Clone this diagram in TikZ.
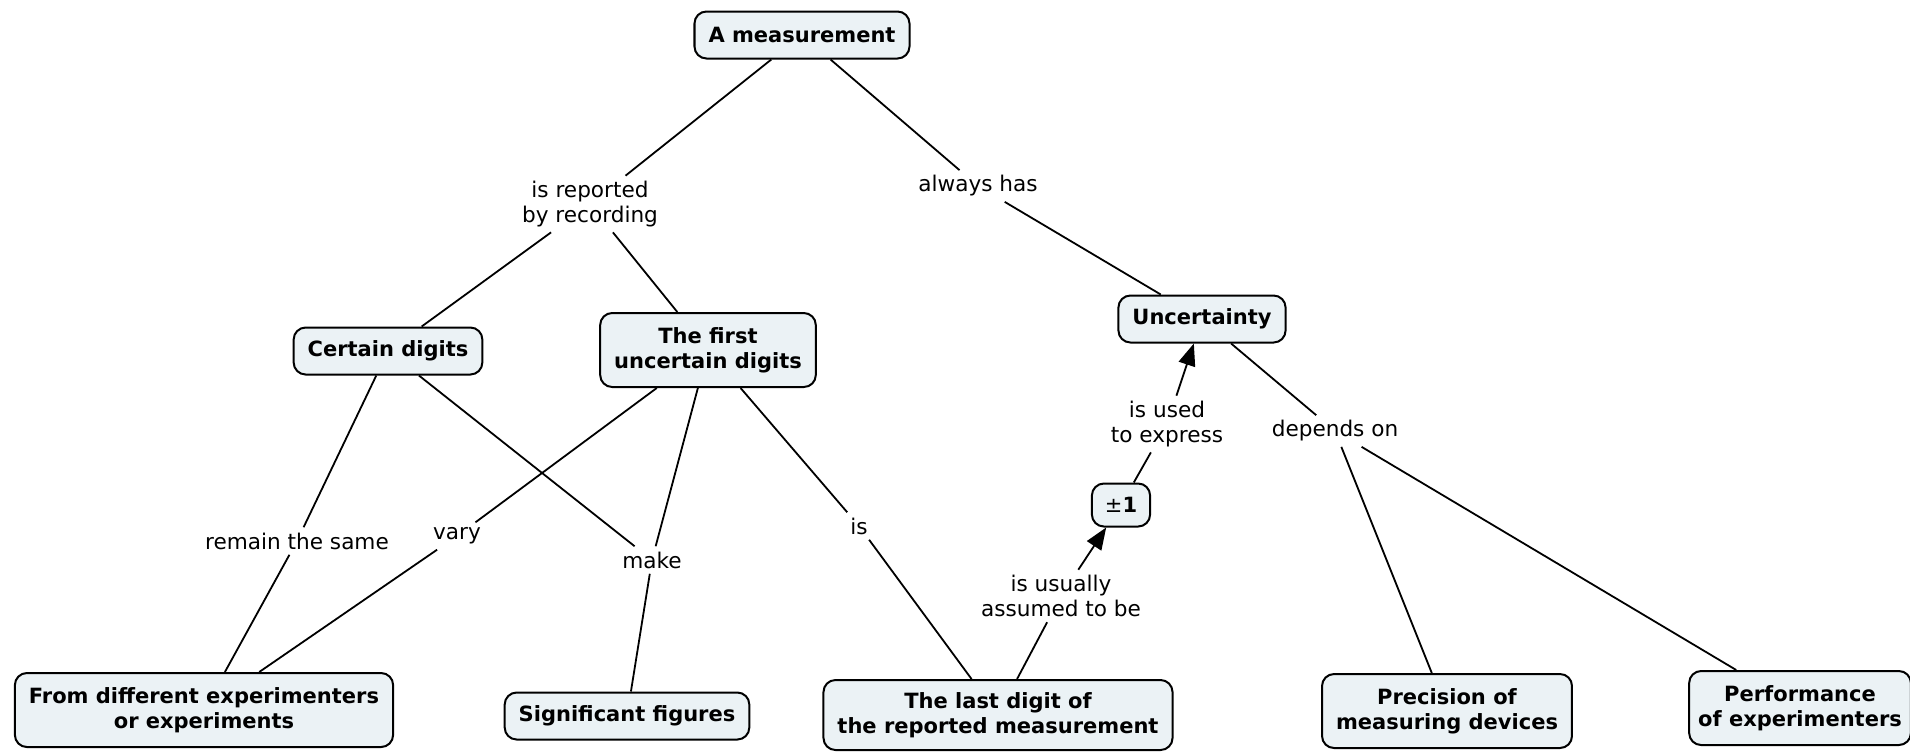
\documentclass[tikz,border=0pt]{standalone}
\usepackage{fontspec}
\setmainfont{DejaVu Sans}
\usetikzlibrary{arrows.meta}
\definecolor{boxfill}{RGB}{235,242,245}

\begin{document}
\begin{tikzpicture}[x=0.5pt,y=-0.5pt,
  concept/.style={draw, line width=1pt, rounded corners=6pt, fill=boxfill,
    font=\fontsize{10.5}{12.5}\selectfont\bfseries, align=center,
    inner xsep=7pt, inner ysep=2pt},
  one/.style={concept, minimum height=23.5pt},
  two/.style={concept, minimum height=37pt},
  link/.style={font=\fontsize{10.8}{12.5}\selectfont, align=center, inner sep=2.5pt},
  conn/.style={line width=0.9pt},
  arr/.style={conn, -{Triangle[length=11pt,width=8.5pt]}}]
\useasboundingbox (0,0) rectangle (1910,752);
\clip (0,0) rectangle (1910,752);

% concepts
\node[one] (meas)  at (802,35)   {A measurement};
\node[one] (cert)  at (388,351)  {Certain digits};
\node[two] (first) at (708,350)  {The first\\uncertain digits};
\node[one] (unc)   at (1202,319) {Uncertainty};
\node[one, inner xsep=6.5pt, minimum height=21.5pt] (pm) at (1121,505) {{\mdseries ±}1};
\node[two] (diff)  at (204,710)  {From different experimenters\\or experiments};
\node[one] (sig)   at (627,716)  {Significant figures};
\node[two, minimum height=35pt] (last) at (998,715) {The last digit of\\the reported measurement};
\node[two] (prec)  at (1447,711) {Precision of\\measuring devices};
\node[two, inner xsep=4.5pt] (perf) at (1800,708) {Performance\\of experimenters};

% linking phrases
\node[link] (lrep)  at (590,204)  {is reported\\by recording};
\node[link] (lalw)  at (978,186)  {always has};
\node[link] (lrem)  at (297,541)  {remain the same};
\node[link] (lvary) at (457,536)  {vary};
\node[link] (lmake) at (652,560)  {make};
\node[link] (lis)   at (859,526)  {is};
\node[link] (lusu)  at (1061,596) {is usually\\assumed to be};
\node[link] (lused) at (1167,424) {is used\\to express};
\node[link] (ldep)  at (1335,431) {depends on};

% connectors
\draw[conn] (meas) -- (lrep);
\draw[conn] (lrep) -- (cert);
\draw[conn] (lrep) -- (first);
\draw[conn] (meas) -- (lalw);
\draw[conn] (lalw) -- (unc);
\draw[conn] (cert) -- (lrem);
\draw[conn] (lrem) -- (diff);
\draw[conn] (cert) -- (lmake);
\draw[conn] (first) -- (lvary);
\draw[conn] (lvary) -- (diff);
\draw[conn] (first) -- (lmake);
\draw[conn] (lmake) -- (sig);
\draw[conn] (first) -- (lis);
\draw[conn] (lis) -- (last);
\draw[conn] (last) -- (lusu);
\draw[arr]  (lusu) -- (pm);
\draw[conn] (pm) -- (lused);
\draw[arr]  (lused) -- (unc);
\draw[conn] (unc) -- (ldep);
\draw[conn] (ldep) -- (prec);
\draw[conn] (ldep) -- (perf);
\end{tikzpicture}
\end{document}
